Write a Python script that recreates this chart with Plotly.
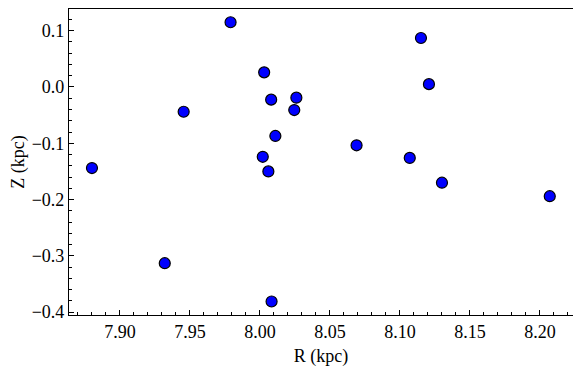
import plotly.graph_objects as go

R_kpc = [7.880, 7.932, 7.9455, 7.979, 8.003, 8.008, 8.026, 8.0245, 8.011,
         8.069, 8.002, 8.006, 8.0083, 8.115, 8.1207, 8.107, 8.130, 8.207]
Z_kpc = [-0.144, -0.313, -0.044, 0.115, 0.026, -0.0225, -0.019, -0.041, -0.087,
         -0.1036, -0.124, -0.150, -0.381, 0.087, 0.005, -0.126, -0.170, -0.194]

x_ticks = [7.90, 7.95, 8.00, 8.05, 8.10, 8.15, 8.20]
y_ticks = [0.1, 0.0, -0.1, -0.2, -0.3, -0.4]

font = dict(family="Liberation Serif, Times New Roman, serif", size=18, color="black")

fig = go.Figure(go.Scatter(
    x=R_kpc, y=Z_kpc, mode="markers",
    marker=dict(size=11, color="#0000ff", line=dict(color="black", width=1.2)),
))

axis_common = dict(
    showline=True, linecolor="black", linewidth=1.2, mirror=True,
    ticks="inside", ticklen=5, tickwidth=1, tickcolor="black",
    showgrid=False, zeroline=False, tickfont=font,
)

fig.update_xaxes(
    **axis_common, range=[7.8636, 8.2236],
    tickvals=x_ticks, ticktext=[f"{v:.2f}" for v in x_ticks],
    minor=dict(ticks="inside", ticklen=3, dtick=0.01, tick0=7.90, tickcolor="black", showgrid=False),
    title=dict(text="R (kpc)", font=font, standoff=8),
)
fig.update_yaxes(
    **axis_common, range=[-0.405, 0.1385],
    tickvals=y_ticks, ticktext=[f"{v:.1f}".replace("-", "\u2212") for v in y_ticks],
    minor=dict(ticks="inside", ticklen=3, dtick=0.02, tick0=0.0, tickcolor="black", showgrid=False),
    title=dict(text="Z (kpc)", font=font, standoff=4),
)

# page body has an 8px default margin, so the figure is sized/offset to compensate
fig.update_layout(
    width=573, height=359,
    margin=dict(l=61, r=8, t=1, b=52),
    plot_bgcolor="white", paper_bgcolor="white",
    showlegend=False, font=font,
)

fig.write_html("out.html")
